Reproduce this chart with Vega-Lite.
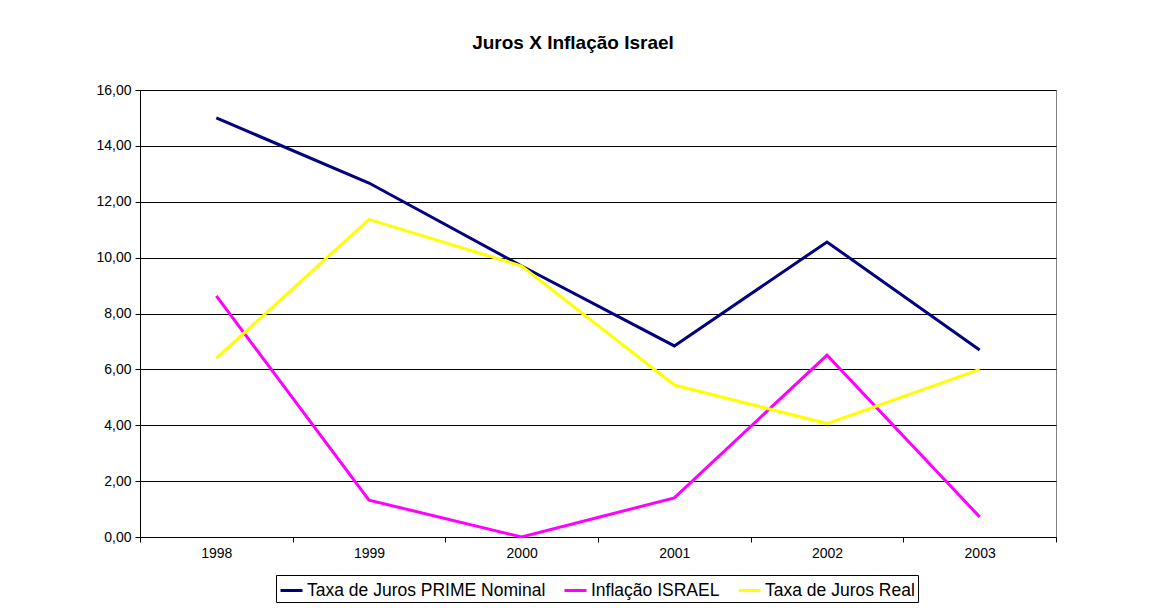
{
  "$schema": "https://vega.github.io/schema/vega-lite/v6.json",
  "width": 916,
  "height": 447,
  "autosize": {"type": "none"},
  "padding": {"left": 140, "top": 90, "right": 112, "bottom": 71},
  "background": "white",
  "config": {
    "font": "Liberation Sans",
    "locale": {"number": {"decimal": ",", "thousands": ".", "grouping": [3], "currency": ["R$", ""]}},
    "view": {"stroke": "#808080", "strokeWidth": 1}
  },
  "title": {
    "text": "Juros X Inflação Israel",
    "font": "Liberation Sans",
    "fontSize": 19,
    "fontWeight": "bold",
    "color": "black",
    "anchor": "middle",
    "dx": -25,
    "offset": 30
  },
  "data": {
    "values": [
      {"ano": "1998", "serie": "Taxa de Juros PRIME Nominal", "valor": 15.0},
      {"ano": "1999", "serie": "Taxa de Juros PRIME Nominal", "valor": 12.67},
      {"ano": "2000", "serie": "Taxa de Juros PRIME Nominal", "valor": 9.7},
      {"ano": "2001", "serie": "Taxa de Juros PRIME Nominal", "valor": 6.84},
      {"ano": "2002", "serie": "Taxa de Juros PRIME Nominal", "valor": 10.56},
      {"ano": "2003", "serie": "Taxa de Juros PRIME Nominal", "valor": 6.69},
      {"ano": "1998", "serie": "Inflação ISRAEL", "valor": 8.63},
      {"ano": "1999", "serie": "Inflação ISRAEL", "valor": 1.32},
      {"ano": "2000", "serie": "Inflação ISRAEL", "valor": 0.0},
      {"ano": "2001", "serie": "Inflação ISRAEL", "valor": 1.4},
      {"ano": "2002", "serie": "Inflação ISRAEL", "valor": 6.51},
      {"ano": "2003", "serie": "Inflação ISRAEL", "valor": 0.72},
      {"ano": "1998", "serie": "Taxa de Juros Real", "valor": 6.4},
      {"ano": "1999", "serie": "Taxa de Juros Real", "valor": 11.37},
      {"ano": "2000", "serie": "Taxa de Juros Real", "valor": 9.7},
      {"ano": "2001", "serie": "Taxa de Juros Real", "valor": 5.44},
      {"ano": "2002", "serie": "Taxa de Juros Real", "valor": 4.06},
      {"ano": "2003", "serie": "Taxa de Juros Real", "valor": 6.0}
    ]
  },
  "mark": {"type": "line", "strokeWidth": 3, "clip": false},
  "encoding": {
    "x": {
      "field": "ano",
      "type": "ordinal",
      "scale": {"type": "band", "paddingInner": 0, "paddingOuter": 0},
      "axis": {
        "title": null,
        "labelAngle": 0,
        "labelFont": "Liberation Sans",
        "labelFontSize": 14,
        "labelColor": "black",
        "labelPadding": 4,
        "tickBand": "extent",
        "tickSize": 5,
        "tickColor": "black",
        "domainColor": "black",
        "grid": false
      }
    },
    "y": {
      "field": "valor",
      "type": "quantitative",
      "scale": {"domain": [0, 16], "nice": false},
      "axis": {
        "title": null,
        "values": [0, 2, 4, 6, 8, 10, 12, 14, 16],
        "format": ".2f",
        "labelFont": "Liberation Sans",
        "labelFontSize": 14,
        "labelColor": "black",
        "labelPadding": 4,
        "tickSize": 5,
        "tickColor": "black",
        "domainColor": "black",
        "gridColor": "black",
        "gridOpacity": 1,
        "gridWidth": 1
      }
    },
    "color": {
      "field": "serie",
      "type": "nominal",
      "scale": {
        "domain": ["Taxa de Juros PRIME Nominal", "Inflação ISRAEL", "Taxa de Juros Real"],
        "range": ["#000080", "#FF00FF", "#FFFF00"]
      },
      "legend": {
        "title": null,
        "orient": "none",
        "legendX": 136,
        "legendY": 485,
        "direction": "horizontal",
        "strokeColor": "black",
        "padding": 3,
        "symbolType": "stroke",
        "symbolStrokeWidth": 3,
        "symbolSize": 484,
        "labelFont": "Liberation Sans",
        "labelFontSize": 17.5,
        "labelLimit": 400,
        "labelColor": "black",
        "labelOffset": 3,
        "columnPadding": 12
      }
    }
  }
}
